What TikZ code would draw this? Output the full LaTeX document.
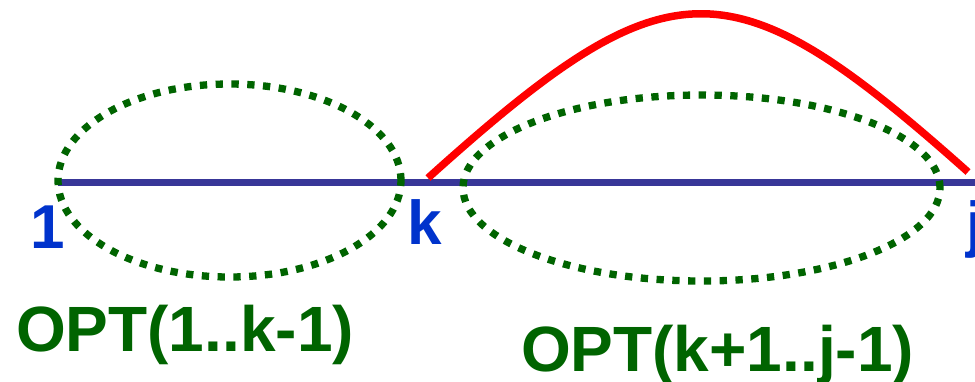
\documentclass[tikz,border=0pt]{standalone}
\usepackage{fontspec}
\setmainfont{Liberation Sans}
\definecolor{lineblue}{RGB}{56,54,152}
\definecolor{optgreen}{RGB}{0,100,0}
\definecolor{labblue}{RGB}{0,51,204}
\tikzset{
  dotring/.style={draw=optgreen, line width=7.3pt, dash pattern=on 7.3pt off 8.5pt},
  baseline/.style={draw=lineblue, line width=7pt},
  arcline/.style={draw=red, line width=7.5pt},
  poslab/.style={text=labblue, font=\fontsize{62}{68}\selectfont\bfseries, inner sep=0pt, anchor=base},
  optlab/.style={text=optgreen, font=\fontsize{64}{70}\selectfont\bfseries, inner sep=0pt, anchor=base}
}
\begin{document}
\begin{tikzpicture}[x=1pt,y=-1pt]
\useasboundingbox (0,0) rectangle (975,381);
\clip (0,0) rectangle (975,381);
\coordinate (L0) at (58,182);
\coordinate (L1) at (976,182);
\coordinate (A0) at (428,178);
\coordinate (A1) at (968,172);
\draw[baseline] (L0) -- (L1);
\draw[dotring] (229.5,180.5) ellipse [x radius=171.5pt, y radius=96.5pt];
\draw[dotring] (701.5,188) ellipse [x radius=238.5pt, y radius=93pt];
\draw[arcline] (A0) .. controls (670,-40) and (730,-40) .. (A1);
\node[poslab] (one) at (48,248) {1};
\node[poslab] (k) at (425,244) {k};
\node[poslab, anchor=base west] (j) at (966,245) {j};
\node[optlab] (opt1) at (185,351) {OPT(1..k-1)};
\node[optlab] (opt2) at (717.5,371) {OPT(k+1..j-1)};
\end{tikzpicture}
\end{document}
